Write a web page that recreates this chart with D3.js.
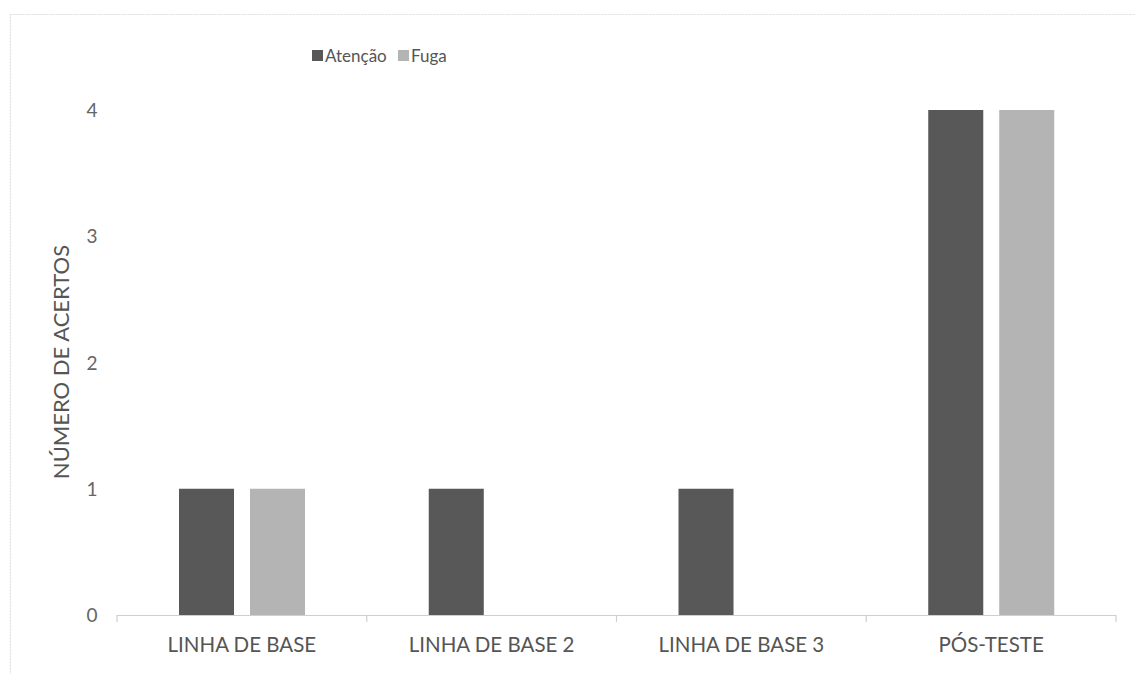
<!DOCTYPE html>
<html>
<head>
<meta charset="utf-8">
<script src="https://cdn.jsdelivr.net/npm/d3@7"></script>
<style>
  html, body { margin: 0; padding: 0; background: #fff; }
  svg { display: block; }
  text { font-family: Lato, "Open Sans", sans-serif; }
</style>
</head>
<body>
<svg id="chart" width="1135" height="674"></svg>
<script>
const categories = ["LINHA DE BASE", "LINHA DE BASE 2", "LINHA DE BASE 3", "PÓS-TESTE"];
const seriesNames = ["Atenção", "Fuga"];
const atencao = [1, 1, 1, 4];
const fuga = [1, 0, 0, 4];
const yTicks = [0, 1, 2, 3, 4];
const yTitle = "NÚMERO DE ACERTOS";
const colors = ["#585858", "#b4b4b4"];

(function () {
const seriesValues = [atencao, fuga];
const svg = d3.select("#chart");

// frame
svg.append("rect").attr("x", 10.5).attr("y", 14.5).attr("width", 1140).attr("height", 680)
  .attr("fill", "none").attr("stroke", "#dedede").attr("stroke-width", 1.2)
  .attr("stroke-dasharray", "2,1");

const pLeft = 117, pRight = 1116, pTop = 110, pBottom = 615;
const x0 = d3.scaleBand().domain(categories).range([pLeft, pRight]).padding(0);
const x1 = d3.scaleBand().domain(seriesNames).range([62, 188]).paddingInner(0.225).paddingOuter(0);
const y = d3.scaleLinear().domain([0, 4]).range([pBottom, pTop]);

// bars
categories.forEach((c, i) => {
  seriesNames.forEach((s, j) => {
    const v = seriesValues[j][i];
    if (v > 0) {
      svg.append("rect")
        .attr("x", x0(c) + x1(s))
        .attr("y", y(v))
        .attr("width", x1.bandwidth())
        .attr("height", y(0) - y(v))
        .attr("fill", colors[j]);
    }
  });
});

// x axis line and ticks
svg.append("line").attr("x1", pLeft).attr("x2", pRight).attr("y1", pBottom + 0.5).attr("y2", pBottom + 0.5)
  .attr("stroke", "#cfcfcf").attr("stroke-width", 1.2);
const bounds = categories.map(c => x0(c)).concat([pRight]);
bounds.forEach(b => {
  svg.append("line").attr("x1", b).attr("x2", b).attr("y1", pBottom).attr("y2", pBottom + 7)
    .attr("stroke", "#cfcfcf").attr("stroke-width", 1.2);
});

// x labels
svg.selectAll(".xl").data(categories).enter().append("text")
  .attr("x", d => x0(d) + x0.bandwidth() / 2)
  .attr("y", 652)
  .attr("text-anchor", "middle")
  .attr("font-size", 20.5)
  .attr("fill", "#555")
  .text(d => d);

// y tick labels
svg.selectAll(".yl").data(yTicks).enter().append("text")
  .attr("x", 92)
  .attr("y", d => y(d) + 7)
  .attr("text-anchor", "middle")
  .attr("font-size", 19)
  .attr("fill", "#666")
  .text(d => d);

// y title
svg.append("text")
  .attr("transform", "translate(69,362) rotate(-90)")
  .attr("text-anchor", "middle")
  .attr("font-size", 22)
  .attr("fill", "#555")
  .text(yTitle);

// legend
const legend = [{x: 312, label: seriesNames[0]}, {x: 398, label: seriesNames[1]}];
legend.forEach((l, i) => {
  svg.append("rect").attr("x", l.x).attr("y", 50).attr("width", 11).attr("height", 11).attr("fill", colors[i]);
  svg.append("text").attr("x", l.x + 13).attr("y", 62).attr("font-size", 17).attr("fill", "#555").text(l.label);
});
})();
</script>
</body>
</html>
